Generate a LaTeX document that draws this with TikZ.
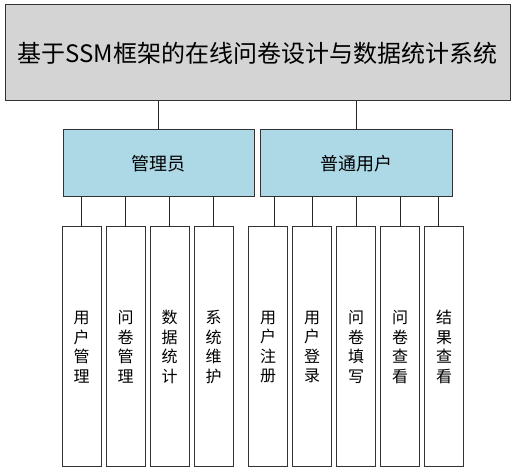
\documentclass[tikz,border=0pt]{standalone}
\usepackage{fontspec}
\setmainfont{Noto Sans CJK SC}
\usetikzlibrary{positioning}

\tikzset{
  sysbox/.style={rectangle, draw=black!80, line width=1pt, fill=black!17, text centered, inner sep=0pt, outer sep=0pt},
  rolebox/.style={rectangle, draw=black!80, line width=1pt, fill={rgb,255:red,173;green,216;blue,230}, text centered, inner sep=0pt, outer sep=0pt},
  funcbox/.style={rectangle, draw=black!80, line width=1pt, fill=white, align=center, inner sep=0pt, outer sep=0pt,
    minimum width=39pt, minimum height=240pt, font=\fontsize{16}{19.5}\selectfont},
  link/.style={draw=black!85, line width=1pt}
}

\begin{document}
\begin{tikzpicture}[x=1pt, y=-1pt]
\useasboundingbox (0,0) rectangle (515,473);

\node[sysbox, minimum width=505pt, minimum height=96pt, font=\fontsize{24}{28}\selectfont] (sys) at (257.5,53) {基于SSM框架的在线问卷设计与数据统计系统};

\node[rolebox, minimum width=191pt, minimum height=67pt, font=\fontsize{18}{22}\selectfont] (admin) at (158.5,163.5) {管理员};
\node[rolebox, minimum width=192pt, minimum height=67pt, font=\fontsize{18}{22}\selectfont] (user) at (356,163.5) {普通用户};

\node[funcbox] (umgr) at (81.5,347) {用\\户\\管\\理};
\node[funcbox, right=5pt of umgr] (qmgr) {问\\卷\\管\\理};
\node[funcbox, right=5pt of qmgr] (stat) {数\\据\\统\\计};
\node[funcbox, right=5pt of stat] (maint) {系\\统\\维\\护};

\node[funcbox] (ureg) at (268,347) {用\\户\\注\\册};
\node[funcbox, right=5pt of ureg] (ulogin) {用\\户\\登\\录};
\node[funcbox, right=5pt of ulogin] (qfill) {问\\卷\\填\\写};
\node[funcbox, right=5pt of qfill] (qview) {问\\卷\\查\\看};
\node[funcbox, right=5pt of qview] (rview) {结\\果\\查\\看};

\path[link] (sys.south -| admin.north) -- (admin.north);
\path[link] (sys.south -| user.north) -- (user.north);

\foreach \f in {umgr, qmgr, stat, maint}
  \path[link] (admin.south -| \f.north) -- (\f.north);

\path[link] ([xshift=6pt]ureg.north |- user.south) -- ([xshift=6pt]ureg.north);
\foreach \f in {ulogin, qfill, qview}
  \path[link] (user.south -| \f.north) -- (\f.north);
\path[link] ([xshift=-6pt]rview.north |- user.south) -- ([xshift=-6pt]rview.north);
\end{tikzpicture}
\end{document}
